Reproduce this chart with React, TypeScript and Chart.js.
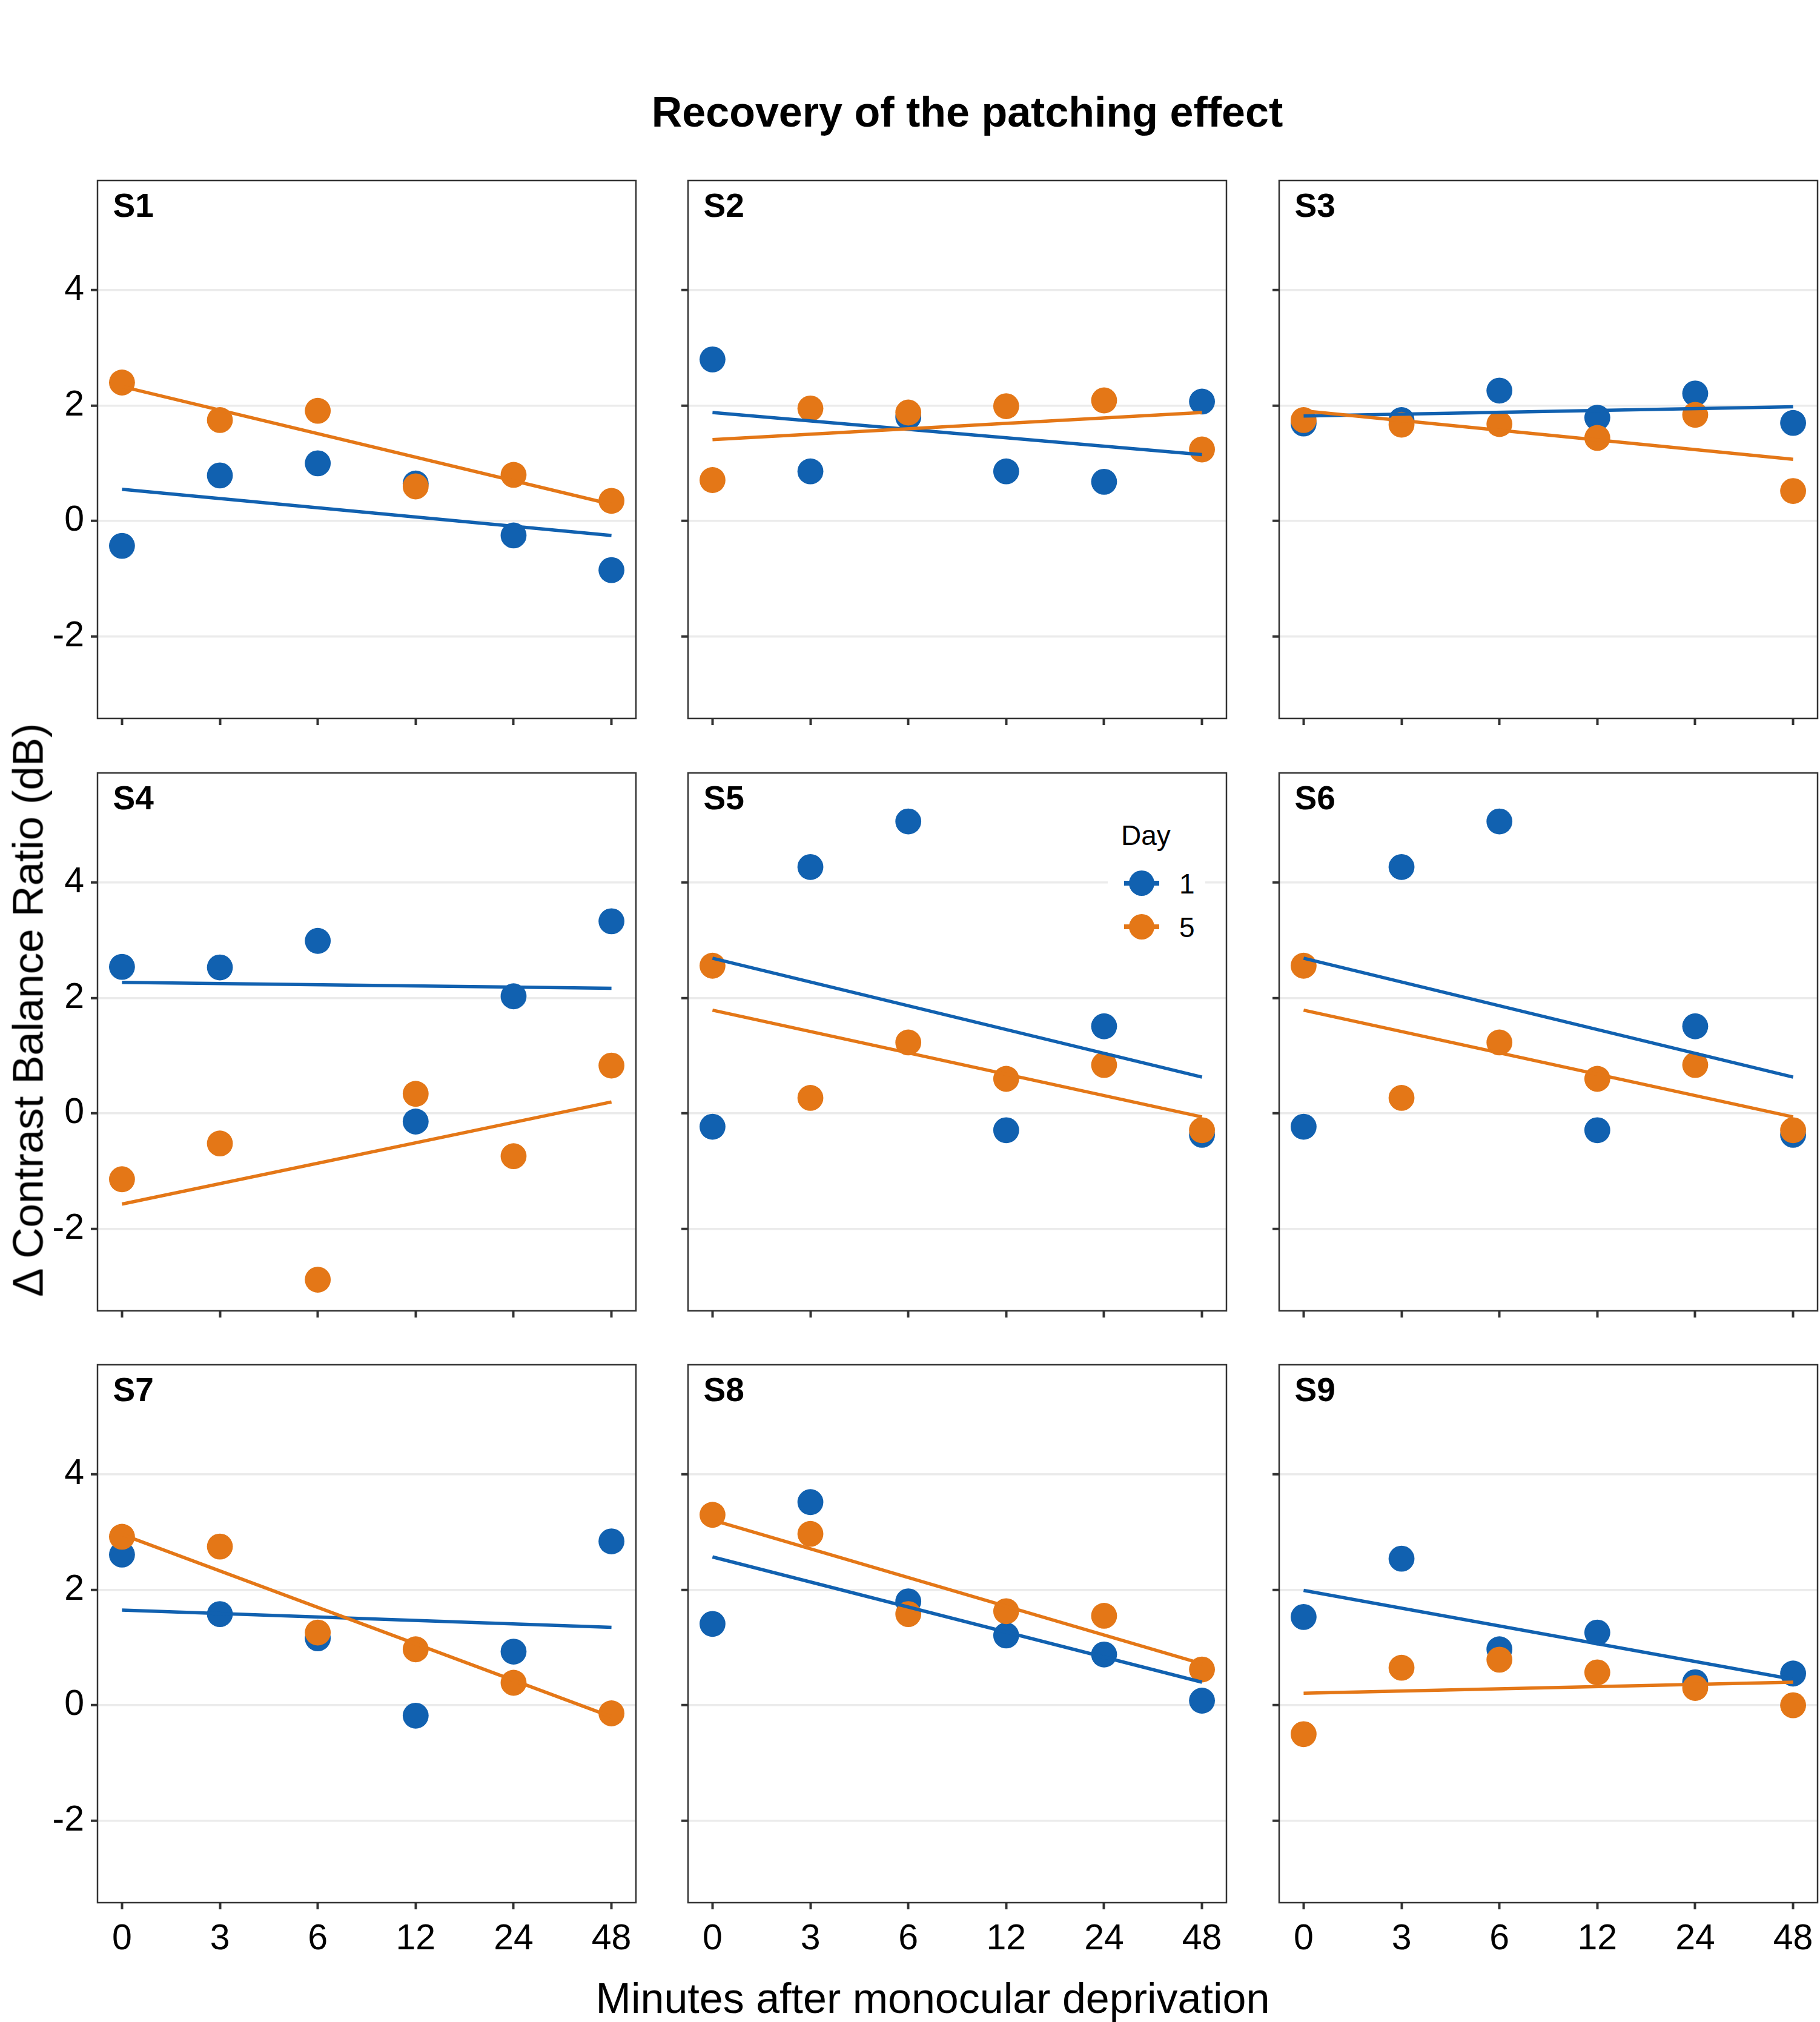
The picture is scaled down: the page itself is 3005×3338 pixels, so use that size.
import React, { useEffect, useRef } from "react";
import { Chart, registerables } from "chart.js";

Chart.register(...registerables);

// ---------------- data ----------------
const minutes = ["0", "3", "6", "12", "24", "48"];
const subjects = ["S1", "S2", "S3", "S4", "S5", "S6", "S7", "S8", "S9"];
const dayLabels = ["1", "5"];
const yTicks = [-2, 0, 2, 4];
const yLimits = [-3.42, 5.9];

// Δ contrast balance ratio (dB), one row per subject, one value per time point
const day1Values = [
  [-0.43, 0.79, 1.0, 0.65, -0.25, -0.85],
  [2.8, 0.86, 1.8, 0.86, 0.68, 2.07],
  [1.69, 1.75, 2.26, 1.79, 2.21, 1.7],
  [2.54, 2.53, 2.99, -0.14, 2.03, 3.33],
  [-0.23, 4.27, 5.06, -0.29, 1.51, -0.37],
  [-0.23, 4.27, 5.06, -0.29, 1.51, -0.37],
  [2.61, 1.58, 1.16, -0.18, 0.93, 2.84],
  [1.41, 3.52, 1.8, 1.21, 0.88, 0.08],
  [1.53, 2.54, 0.97, 1.26, 0.4, 0.55],
];
const day5Values = [
  [2.4, 1.75, 1.91, 0.6, 0.8, 0.35],
  [0.71, 1.95, 1.88, 1.99, 2.09, 1.24],
  [1.75, 1.67, 1.68, 1.44, 1.84, 0.52],
  [-1.14, -0.52, -2.88, 0.34, -0.74, 0.83],
  [2.56, 0.27, 1.23, 0.6, 0.84, -0.29],
  [2.56, 0.27, 1.23, 0.6, 0.84, -0.29],
  [2.92, 2.75, 1.26, 0.97, 0.39, -0.14],
  [3.3, 2.97, 1.58, 1.63, 1.55, 0.62],
  [-0.5, 0.65, 0.79, 0.57, 0.3, 0.0],
];
// fitted trend line: value at first (0 min) and last (48 min) time point
const day1Fit = [
  [0.55, -0.25],
  [1.88, 1.15],
  [1.82, 1.98],
  [2.27, 2.17],
  [2.69, 0.63],
  [2.69, 0.63],
  [1.65, 1.35],
  [2.57, 0.4],
  [1.99, 0.45],
];
const day5Fit = [
  [2.33, 0.29],
  [1.41, 1.88],
  [1.91, 1.07],
  [-1.57, 0.2],
  [1.79, -0.06],
  [1.79, -0.06],
  [2.96, -0.2],
  [3.21, 0.72],
  [0.21, 0.4],
];

// ---------------- style ----------------
const FONT = "'Liberation Sans', Arial, Helvetica, sans-serif";
const BLUE = "#1161B0";
const ORANGE = "#E47717";
const dayColors = [BLUE, ORANGE];

const PANEL_W = 889;
const PANEL_H = 888;
const PAD_L = 150;
const PAD_T = 10;
const PAD_R = 10;
const PAD_B = 110;
const COLS = [161, 1136, 2112];
const ROWS = [298, 1276, 2253];

const framePlugin = {
  id: "frame",
  afterDatasetsDraw(chart: any) {
    const { ctx, chartArea: a } = chart;
    ctx.save();
    ctx.strokeStyle = "#333333";
    ctx.lineWidth = 2.5;
    ctx.strokeRect(a.left, a.top, a.right - a.left, a.bottom - a.top);
    ctx.restore();
  },
};

function Panel({ index, showX, showY }: { index: number; showX: boolean; showY: boolean }) {
  const ref = useRef<HTMLCanvasElement | null>(null);
  useEffect(() => {
    if (!ref.current) return;
    const pts = (vals: number[]) => vals.map((v, i) => ({ x: i, y: v }));
    const fit = (f: number[]) => [
      { x: 0, y: f[0] },
      { x: minutes.length - 1, y: f[1] },
    ];
    const pointSet = (vals: number[], color: string, order: number, label: string) => ({
      label,
      data: pts(vals),
      pointRadius: 21.4,
      pointHoverRadius: 21.4,
      pointBackgroundColor: color,
      pointBorderWidth: 0,
      borderWidth: 0,
      showLine: false,
      order,
    });
    const lineSet = (f: number[], color: string, order: number, label: string) => ({
      label,
      data: fit(f),
      showLine: true,
      borderColor: color,
      borderWidth: 5.5,
      pointRadius: 0,
      pointHoverRadius: 0,
      fill: false,
      order,
    });
    const chart = new Chart(ref.current, {
      type: "scatter",
      data: {
        datasets: [
          lineSet(day5Fit[index], dayColors[1], 0, "fit " + dayLabels[1]),
          lineSet(day1Fit[index], dayColors[0], 1, "fit " + dayLabels[0]),
          pointSet(day5Values[index], dayColors[1], 2, dayLabels[1]),
          pointSet(day1Values[index], dayColors[0], 3, dayLabels[0]),
        ] as any,
      },
      options: {
        animation: false,
        responsive: false,
        events: [],
        layout: { autoPadding: false, padding: { left: 0, top: PAD_T, right: PAD_R, bottom: 0 } },
        plugins: { legend: { display: false }, tooltip: { enabled: false }, title: { display: false } },
        scales: {
          x: {
            type: "linear",
            min: -0.25,
            max: minutes.length - 1 + 0.25,
            afterBuildTicks: (s: any) => {
              s.ticks = minutes.map((_, i) => ({ value: i }));
            },
            afterFit: (s: any) => {
              s.height = PAD_B;
              s.paddingLeft = 0;
              s.paddingRight = 0;
            },
            ticks: {
              autoSkip: false,
              maxRotation: 0,
              minRotation: 0,
              padding: 14,
              color: showX ? "#000000" : "rgba(0,0,0,0)",
              font: { family: FONT, size: 59 },
              callback: (_v: any, i: number) => minutes[i],
            },
            grid: {
              drawOnChartArea: false,
              drawTicks: true,
              tickLength: 11,
              tickColor: "#333333",
              tickWidth: 4,
              color: "rgba(0,0,0,0)",
            },
            border: { display: false },
          },
          y: {
            type: "linear",
            min: yLimits[0],
            max: yLimits[1],
            afterBuildTicks: (s: any) => {
              s.ticks = yTicks.map((v) => ({ value: v }));
            },
            afterFit: (s: any) => {
              s.width = PAD_L;
              s.paddingTop = 0;
              s.paddingBottom = 0;
            },
            ticks: {
              padding: 11,
              color: showY ? "#000000" : "rgba(0,0,0,0)",
              font: { family: FONT, size: 59 },
              callback: (v: any) => String(v),
            },
            grid: {
              color: "#EBEBEB",
              lineWidth: 3.5,
              drawTicks: true,
              tickLength: 11,
              tickColor: "#333333",
              tickWidth: 4,
            },
            border: { display: false },
          },
        },
      } as any,
      plugins: [framePlugin],
    });
    return () => chart.destroy();
  }, [index, showX, showY]);

  const left = COLS[index % 3] - PAD_L;
  const top = ROWS[Math.floor(index / 3)] - PAD_T;
  return (
    <canvas
      ref={ref}
      width={PANEL_W + PAD_L + PAD_R}
      height={PANEL_H + PAD_T + PAD_B}
      style={{
        position: "absolute",
        left,
        top,
        width: PANEL_W + PAD_L + PAD_R,
        height: PANEL_H + PAD_T + PAD_B,
      }}
    />
  );
}

function LegendKey({ color, cy }: { color: string; cy: number }) {
  return (
    <>
      <div
        style={{
          position: "absolute",
          left: 1856,
          top: cy - 3.9,
          width: 58,
          height: 7.8,
          background: color,
        }}
      />
      <div
        style={{
          position: "absolute",
          left: 1885 - 21.4,
          top: cy - 21.4,
          width: 42.8,
          height: 42.8,
          borderRadius: "50%",
          background: color,
        }}
      />
    </>
  );
}

export default function App() {
  return (
    <div
      style={{
        position: "absolute",
        left: 0,
        top: 0,
        width: 3005,
        height: 3338,
        background: "#ffffff",
        overflow: "hidden",
        fontFamily: FONT,
        color: "#000000",
      }}
    >
      <div
        style={{
          position: "absolute",
          left: 1597 - 900,
          top: 150,
          width: 1800,
          textAlign: "center",
          fontSize: 70,
          lineHeight: "70px",
          fontWeight: "bold",
          whiteSpace: "nowrap",
        }}
      >
        Recovery of the patching effect
      </div>

      {subjects.map((s, i) => (
        <Panel key={s} index={i} showY={i % 3 === 0} showX={i >= 6} />
      ))}

      {subjects.map((s, i) => (
        <div
          key={"lab" + s}
          style={{
            position: "absolute",
            left: COLS[i % 3] + 25.5,
            top: ROWS[Math.floor(i / 3)] + 13.6,
            fontSize: 55,
            lineHeight: "55px",
            fontWeight: "bold",
            whiteSpace: "nowrap",
          }}
        >
          {s}
        </div>
      ))}

      {/* legend inside S5 */}
      <div
        style={{
          position: "absolute",
          left: 1829,
          top: 1338,
          width: 161,
          height: 222,
          background: "#ffffff",
        }}
      />
      <div
        style={{
          position: "absolute",
          left: 1851,
          top: 1356,
          fontSize: 46,
          lineHeight: "46px",
          whiteSpace: "nowrap",
        }}
      >
        Day
      </div>
      {dayLabels.map((d, k) => (
        <React.Fragment key={"leg" + d}>
          <LegendKey color={dayColors[k]} cy={1458 + k * 72} />
          <div
            style={{
              position: "absolute",
              left: 1947,
              top: 1435.5 + k * 72,
              fontSize: 46,
              lineHeight: "46px",
              whiteSpace: "nowrap",
            }}
          >
            {d}
          </div>
        </React.Fragment>
      ))}

      {/* axis titles */}
      <div
        style={{
          position: "absolute",
          left: 1540 - 800,
          top: 3264,
          width: 1600,
          textAlign: "center",
          fontSize: 70,
          lineHeight: "70px",
          whiteSpace: "nowrap",
        }}
      >
        Minutes after monocular deprivation
      </div>
      <div
        style={{
          position: "absolute",
          left: 45.6 - 700,
          top: 1667 - 35.5,
          width: 1400,
          height: 71,
          textAlign: "center",
          fontSize: 71,
          lineHeight: "71px",
          whiteSpace: "nowrap",
          transform: "rotate(-90deg)",
          transformOrigin: "50% 50%",
        }}
      >
        Δ Contrast Balance Ratio (dB)
      </div>
    </div>
  );
}
